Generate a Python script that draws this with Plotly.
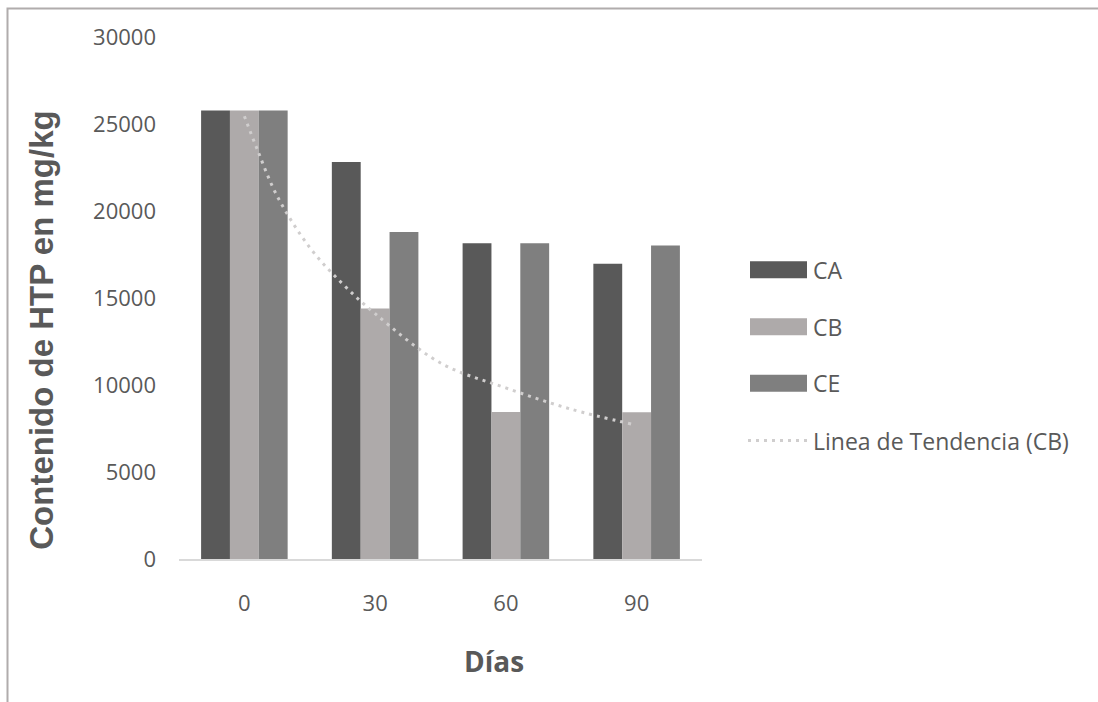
import plotly.graph_objects as go

# Sampling days (category labels) and HTP content per treatment, mg/kg
dias = ["0", "30", "60", "90"]
ca = [25770, 22820, 18150, 16970]
cb = [25770, 14400, 8450, 8430]
ce = [25770, 18800, 18150, 18020]

# Trend curve for CB, sampled along the category axis (0 = day 0, 3 = day 90)
trend_pos = [0.0, 0.1, 0.25, 0.5, 0.75, 1.0, 1.5, 2.0, 2.5, 2.96]
trend_val = [25450, 23510, 20870, 17900, 15820, 14100, 11265, 9830, 8607, 7760]

series_names = ["CA", "CB", "CE"]
series_colors = ["#595959", "#AEAAAA", "#7F7F7F"]
trend_name = "Linea de Tendencia (CB)"
trend_color = "#D0CECE"

W, H = 1098, 702
L, R, T, B = 179, 702, 37, 559.5  # plot area in pixels
TXT = "#595959"
FONT = "Open Sans"


def px(x):
    return (x - L) / (R - L)


def py(y):
    return (B - y) / (B - T)


fig = go.Figure()
pos = list(range(len(dias)))
for name, vals, col in zip(series_names, [ca, cb, ce], series_colors):
    fig.add_trace(go.Bar(x=pos, y=vals, name=name, marker=dict(color=col, line=dict(width=0)),
                         showlegend=False))

fig.add_trace(go.Scatter(x=trend_pos, y=trend_val, mode="lines", name=trend_name,
                         line=dict(color=trend_color, width=3, dash="3px,5px", shape="spline"),
                         showlegend=False))

shapes = []
annotations = []

# legend drawn as swatches + labels on the right
leg_y = [270, 327, 383.5]
for name, col, yc in zip(series_names, series_colors, leg_y):
    shapes.append(dict(type="rect", xref="paper", yref="paper",
                       x0=px(750), x1=px(807), y0=py(yc + 8.5), y1=py(yc - 8.5),
                       fillcolor=col, line=dict(width=0)))
    annotations.append(dict(x=px(811), y=py(yc), xref="paper", yref="paper", text=name,
                            showarrow=False, xanchor="left", yanchor="middle",
                            font=dict(family=FONT, size=23, color=TXT)))
shapes.append(dict(type="line", xref="paper", yref="paper",
                   x0=px(748), x1=px(808), y0=py(441), y1=py(441),
                   line=dict(color=trend_color, width=3, dash="3px,5px")))
annotations.append(dict(x=px(811), y=py(441), xref="paper", yref="paper", text=trend_name,
                        showarrow=False, xanchor="left", yanchor="middle",
                        font=dict(family=FONT, size=23, color=TXT)))

# axis titles
annotations.append(dict(x=px(494), y=py(662), xref="paper", yref="paper", text="<b>Días</b>",
                        showarrow=False, xanchor="center", yanchor="middle",
                        font=dict(family=FONT, size=28, color=TXT)))
annotations.append(dict(x=px(42), y=py(331), xref="paper", yref="paper",
                        text="<b>Contenido de HTP en mg/kg</b>", textangle=-90,
                        showarrow=False, xanchor="center", yanchor="middle",
                        font=dict(family="Liberation Sans", size=33, color=TXT)))

# outer frame (top and left edges)
shapes.append(dict(type="path", xref="paper", yref="paper",
                   path=f"M {px(7.5)} {py(730)} L {px(7.5)} {py(8.5)} L {px(1120)} {py(8.5)}",
                   line=dict(color="#B0ACAC", width=2)))

fig.update_layout(
    width=W, height=H,
    margin=dict(l=L, r=W - R, t=T, b=H - B),
    paper_bgcolor="white", plot_bgcolor="white",
    barmode="group", bargap=0.338, bargroupgap=0,
    shapes=shapes, annotations=annotations,
    xaxis=dict(range=[-0.5, 3.5], tickvals=pos, ticktext=dias, showgrid=False, zeroline=False,
               showline=True, linecolor="#D9D9D9", linewidth=1.5, ticks="",
               ticklabelstandoff=24, tickfont=dict(family=FONT, size=22, color=TXT)),
    yaxis=dict(range=[0, 30000], dtick=5000, showgrid=False, zeroline=False, showline=False,
               ticks="", ticklabelstandoff=22, tickformat="d",
               tickfont=dict(family=FONT, size=22, color=TXT)),
)

fig.write_html("out.html")
